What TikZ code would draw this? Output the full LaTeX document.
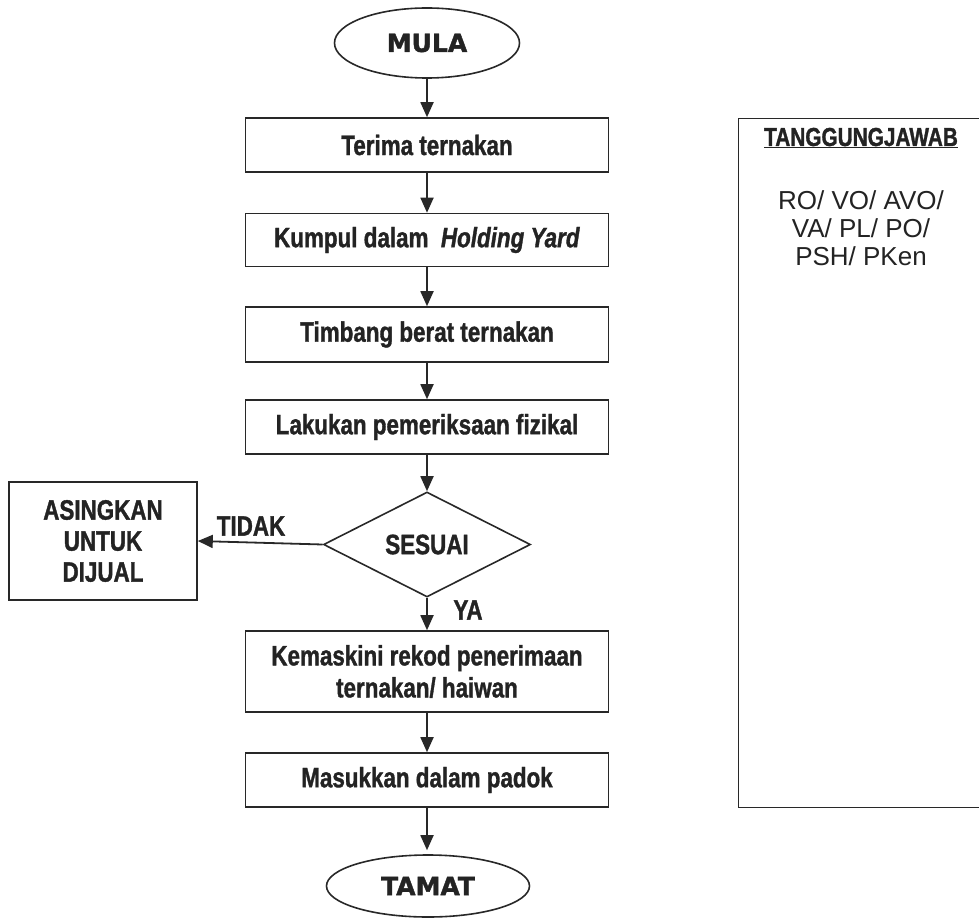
\documentclass[tikz,border=0pt]{standalone}
\usepackage{fontspec}
\setmainfont{Liberation Sans}
\newfontfamily\nb[FakeStretch=0.8, BoldFeatures={FakeBold=1.2}, BoldItalicFeatures={FakeBold=1.2}]{Liberation Sans}
\newfontfamily\heavy[BoldFeatures={FakeBold=1.6}]{DejaVu Sans}
\usetikzlibrary{shapes.geometric,arrows.meta}
\definecolor{ink}{RGB}{40,40,40}
\definecolor{txt}{RGB}{35,35,35}
\tikzset{
  proc/.style={draw=ink, line width=1.6pt, rectangle, minimum width=363pt, inner sep=0pt,
    text=txt, align=center, font=\nb\bfseries\fontsize{28}{32}\selectfont},
  term/.style={draw=ink, line width=1.6pt, ellipse, inner sep=0pt, text=txt,
    font=\heavy\bfseries\fontsize{25}{28}\selectfont},
  dec/.style={draw=ink, line width=1.6pt, diamond, inner sep=0pt, text=txt,
    font=\nb\bfseries\fontsize{28}{32}\selectfont},
  lbl/.style={text=txt, inner sep=0pt, font=\nb\bfseries\fontsize{28}{32}\selectfont},
  flow/.style={draw=ink, line width=1.8pt, -{Triangle[length=15pt,width=13pt]}},
}
\begin{document}
\begin{tikzpicture}[x=1pt,y=-1pt]
\useasboundingbox[fill=white] (0,0) rectangle (979,920);
% flow nodes
\node[term, minimum width=185pt, minimum height=70pt] (mula) at (427,43) {MULA};
\node[proc, minimum height=54pt] (b1) at (427,145) {Terima ternakan};
\node[proc, minimum height=53pt] (b2) at (427,240) {Kumpul dalam \ \textit{Holding Yard}};
\node[proc, minimum height=55pt] (b3) at (427,334.5) {Timbang berat ternakan};
\node[proc, minimum height=54pt] (b4) at (427,427) {Lakukan pemeriksaan fizikal};
\node[dec, minimum width=207pt, minimum height=105pt] (dia) at (427,544.5) {SESUAI};
\node[proc, minimum width=188pt, minimum height=118pt, font=\nb\bfseries\fontsize{28}{31}\selectfont] (asing) at (103,541) {ASINGKAN\\UNTUK\\DIJUAL};
\node[proc, minimum height=81pt] (b5) at (427,671.5) {Kemaskini rekod penerimaan\\ternakan/ haiwan};
\node[proc, minimum height=54pt] (b6) at (427,780) {Masukkan dalam padok};
\node[term, minimum width=203pt, minimum height=62pt] (tamat) at (428,886) {TAMAT};
% labels
\node[lbl] (tidak) at (251,526) {TIDAK};
\node[lbl] (ya) at (468,610) {YA};
% connectors
\draw[flow] (mula.south) -- (b1.north);
\draw[flow] (b1) -- (b2);
\draw[flow] (b2) -- (b3);
\draw[flow] (b3) -- (b4);
\draw[flow] (b4.south) -- (dia.north);
\draw[flow] (dia.west) -- (asing.east);
\draw[flow] (dia.south) -- (b5.north);
\draw[flow] (b5) -- (b6);
\draw[flow, shorten >=4pt] (b6.south) -- (b6.south |- tamat.north);
% responsibility box (open on the right, runs off the page)
\begin{scope}
\clip (0,0) rectangle (979,920);
\node[draw=ink, line width=1.4pt, rectangle, minimum width=260pt, minimum height=689pt, inner sep=0pt, anchor=north west] (resp) at (738,118) {};
\end{scope}
\node[lbl, font=\nb\bfseries\fontsize{26}{30}\selectfont, anchor=base] (title) at (861,146) {\underline{TANGGUNGJAWAB}};
\node[text=txt, inner sep=0pt, align=center, anchor=north, font=\fontsize{26}{28}\selectfont] (who) at (861,190) {RO/ VO/ AVO/\\VA/ PL/ PO/\\PSH/ PKen};
\end{tikzpicture}
\end{document}
